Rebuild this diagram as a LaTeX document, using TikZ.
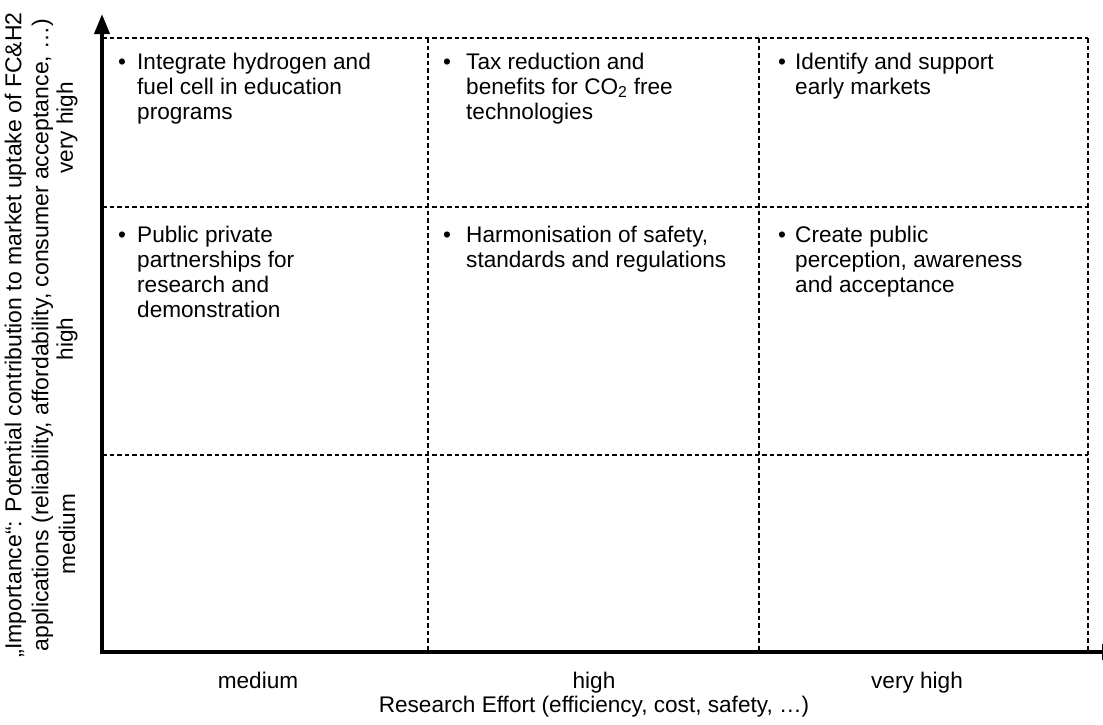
\documentclass[tikz,border=0pt]{standalone}
\usepackage{fontspec}
\setmainfont{Liberation Sans}
\usetikzlibrary{arrows.meta,positioning}
\begin{document}
\begin{tikzpicture}[
  x=1pt, y=-1pt,
  mtxgrid/.style = {dash pattern=on 4.5pt off 3pt, line width=1.2pt},
  mtxaxis/.style = {line width=4pt, -{Triangle[length=20pt,width=15pt]}},
  mtxlbl/.style = {font=\fontsize{22.6}{25}\selectfont, inner sep=0pt},
  mtxdot/.style = {mtxlbl, anchor=base},
  mtxitem/.style = {mtxlbl, anchor=base west}
]
  \useasboundingbox (0,0) rectangle (1103,724);
  % Raster
  \foreach \y in {38,207,455} {
    \draw[mtxgrid] (102,\y) -- (1088,\y);
  }
  \foreach \x in {428,759,1088} {
    \draw[mtxgrid] (\x,38) -- (\x,652);
  }
  % Achsen
  \coordinate (origin) at (102,652);
  \coordinate (ytip) at (102,14);
  \coordinate (xtip) at (1122,652);
  \begin{scope}
    \clip (0,0) rectangle (1103,724);
    \draw[mtxaxis] ([yshift=-2pt]origin) -- (ytip);
    \draw[mtxaxis] ([xshift=-2pt]origin) -- (xtip);
  \end{scope}
  % Zellen, obere Reihe
  \node[mtxdot] (b11) at (122,69) {•};
  \node[mtxitem] (t11) at (137,69) {\begin{tabular}[t]{@{}l@{}}Integrate hydrogen and\\fuel cell in education\\programs\end{tabular}};
  \node[mtxdot] (b12) at (447,69) {•};
  \node[mtxitem] (t12) at (466,69) {\begin{tabular}[t]{@{}l@{}}Tax reduction and\\benefits for CO\textsubscript{2} free\\technologies\end{tabular}};
  \node[mtxdot] (b13) at (782,69) {•};
  \node[mtxitem] (t13) at (795,69) {\begin{tabular}[t]{@{}l@{}}Identify and support\\early markets\end{tabular}};
  % Zellen, mittlere Reihe
  \node[mtxdot] (b21) at (122,242) {•};
  \node[mtxitem] (t21) at (137,242) {\begin{tabular}[t]{@{}l@{}}Public private\\partnerships for\\research and\\demonstration\end{tabular}};
  \node[mtxdot] (b22) at (447,242) {•};
  \node[mtxitem] (t22) at (466,242) {\begin{tabular}[t]{@{}l@{}}Harmonisation of safety,\\standards and regulations\end{tabular}};
  \node[mtxdot] (b23) at (782,242) {•};
  \node[mtxitem] (t23) at (795,242) {\begin{tabular}[t]{@{}l@{}}Create public\\perception, awareness\\and acceptance\end{tabular}};
  % Beschriftung x
  \node[mtxdot] (xmed) at (258,688) {medium};
  \node[mtxdot] (xhigh) at (594,688) {high};
  \node[mtxdot] (xvhigh) at (917,688) {very high};
  \node[mtxdot] (xtitle) at (594,712) {Research Effort (efficiency, cost, safety, …)};
  % Beschriftung y
  \node[mtxlbl, rotate=90] (yvhigh) at (67,128) {very high};
  \node[mtxlbl, rotate=90] (yhigh) at (67,339) {high};
  \node[mtxlbl, rotate=90] (ymed) at (67,534) {medium};
  \node[mtxlbl, font=\fontsize{23}{27}\selectfont, rotate=90, align=center] (ytitle) at (29,335)
    {„Importance“: Potential contribution to market uptake of FC\&H2\\applications (reliability, affordability, consumer acceptance, …)};
\end{tikzpicture}
\end{document}
